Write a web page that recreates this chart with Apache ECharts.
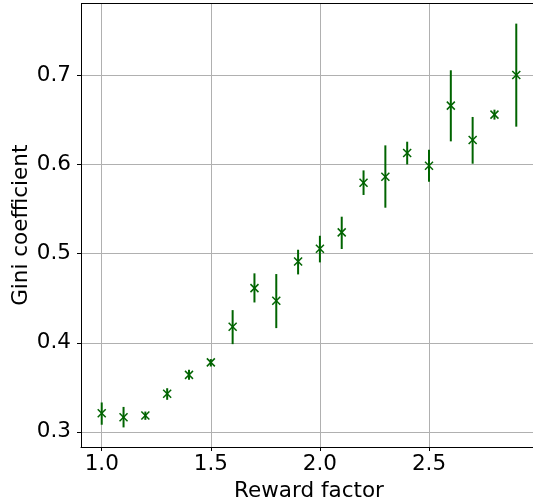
<!DOCTYPE html>
<html>
<head>
<meta charset="utf-8">
<script src="https://cdn.jsdelivr.net/npm/echarts@6/dist/echarts.min.js"></script>
<style>html,body{margin:0;padding:0;background:#fff;}#c{width:533px;height:503px;}</style>
</head>
<body>
<div id="c"></div>
<script>
var rewardFactors = [1.0,1.1,1.2,1.3,1.4,1.5,1.6,1.7,1.8,1.9,2.0,2.1,2.2,2.3,2.4,2.5,2.6,2.7,2.8,2.9];
var giniMean  = [0.321,0.3165,0.3183,0.3427,0.364,0.378,0.418,0.4614,0.4472,0.4914,0.5056,0.524,0.5798,0.5865,0.6131,0.5989,0.6663,0.6277,0.6562,0.7008];
var giniLower = [0.308,0.305,0.3135,0.336,0.3584,0.3734,0.3985,0.4453,0.4165,0.4768,0.4903,0.5053,0.566,0.5517,0.6003,0.5809,0.6262,0.6011,0.6506,0.6427];
var giniUpper = [0.333,0.328,0.3228,0.349,0.3697,0.3817,0.4367,0.478,0.4772,0.5045,0.5202,0.5416,0.5936,0.6217,0.6258,0.6169,0.706,0.6536,0.6618,0.7584];
var xTicks = [1.0,1.5,2.0,2.5];
var yTicks = [0.3,0.4,0.5,0.6,0.7];

var data = rewardFactors.map(function(x,i){return [x,giniMean[i],giniLower[i],giniUpper[i]];});
var green = '#006400';
var font = 'DejaVu Sans';
var fs = 21.5;

var chart = echarts.init(document.getElementById('c'), null, {renderer:'canvas'});
chart.setOption({
  animation:false,
  backgroundColor:'#fff',
  grid:{left:81,top:3.5,width:456,height:443.5,containLabel:false,outerBoundsMode:'none',show:false},
  xAxis:{
    type:'value', min:0.905, max:2.995,
    name:'Reward factor', nameLocation:'middle', nameGap:33, nameMoveOverlap:false,
    nameTextStyle:{fontFamily:font,fontSize:fs,color:'#000'},
    axisLine:{show:true,onZero:false,lineStyle:{color:'#000',width:1}},
    axisTick:{show:true,length:4,customValues:xTicks,lineStyle:{color:'#000',width:1}},
    axisLabel:{customValues:xTicks,fontFamily:font,fontSize:fs,color:'#000',margin:6,
      formatter:function(v){return v.toFixed(1);}},
    splitLine:{show:true,lineStyle:{color:'#b0b0b0',width:1}}
  },
  yAxis:{
    type:'value', min:0.283, max:0.781,
    name:'Gini coefficient', nameLocation:'middle', nameGap:49, nameMoveOverlap:false,
    nameTextStyle:{fontFamily:font,fontSize:fs,color:'#000'},
    axisLine:{show:true,onZero:false,lineStyle:{color:'#000',width:1}},
    axisTick:{show:true,length:4,customValues:yTicks,lineStyle:{color:'#000',width:1}},
    axisLabel:{customValues:yTicks,fontFamily:font,fontSize:fs,color:'#000',margin:10,
      formatter:function(v){return v.toFixed(1);}},
    splitLine:{show:true,lineStyle:{color:'#b0b0b0',width:1}}
  },
  series:[{
    type:'custom',
    data:data,
    clip:false,
    renderItem:function(params,api){
      var c = api.coord([api.value(0),api.value(1)]);
      var lo = api.coord([api.value(0),api.value(2)]);
      var hi = api.coord([api.value(0),api.value(3)]);
      var s = 4;
      return {type:'group',children:[
        {type:'line',shape:{x1:c[0],y1:lo[1],x2:c[0],y2:hi[1]},style:{stroke:green,lineWidth:2}},
        {type:'line',shape:{x1:c[0]-s,y1:c[1]-s,x2:c[0]+s,y2:c[1]+s},style:{stroke:green,lineWidth:1.5}},
        {type:'line',shape:{x1:c[0]-s,y1:c[1]+s,x2:c[0]+s,y2:c[1]-s},style:{stroke:green,lineWidth:1.5}}
      ]};
    }
  }],
  graphic:[{type:'line',shape:{x1:81,y1:3.5,x2:540,y2:3.5},style:{stroke:'#000',lineWidth:1},z:10}]
});
</script>
</body>
</html>
